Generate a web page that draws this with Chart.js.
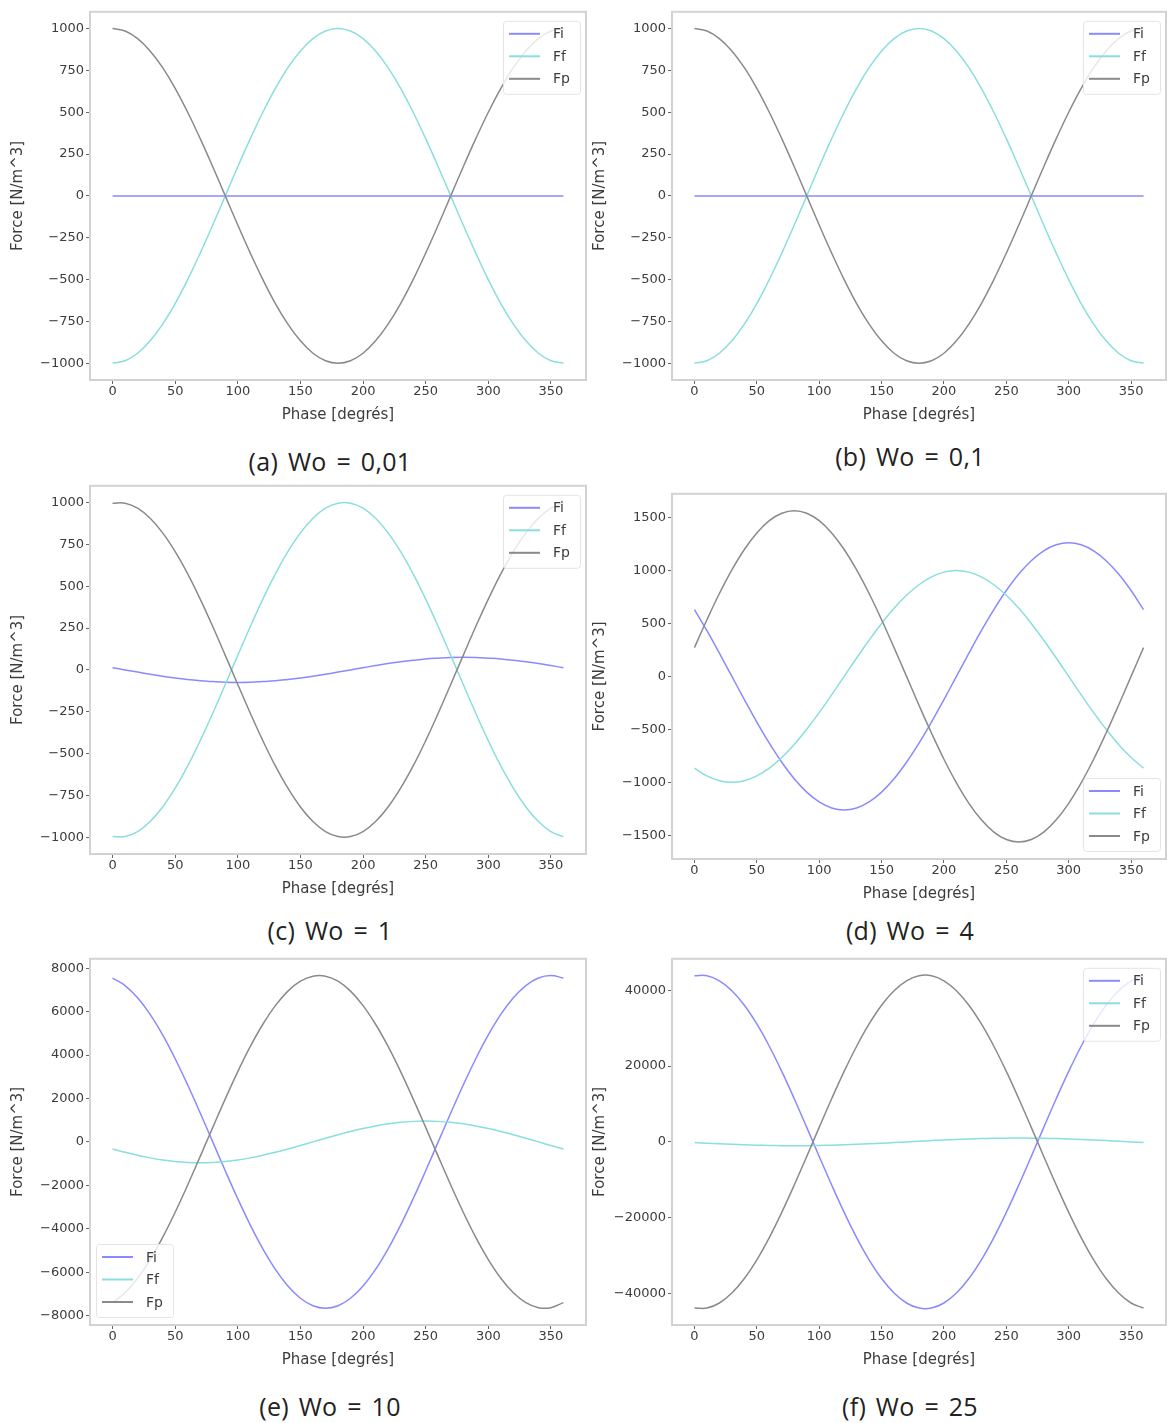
<!DOCTYPE html>
<html>
<head>
<meta charset="utf-8">
<script src="https://cdn.jsdelivr.net/npm/chart.js@4.4.1/dist/chart.umd.min.js"></script>
<style>
  body { margin: 0; background: #fff; width: 1167px; height: 1423px; position: relative; overflow: hidden; }
  canvas { position: absolute; }
  .cap { position: absolute; font-family: "Open Sans", sans-serif; font-size: 25px; color: #222;
         letter-spacing: 0.3px; word-spacing: 3px; transform: translate(-50%, -50%); white-space: nowrap; }
</style>
</head>
<body>
<script>
// phase samples (degrés), read every 10°
const PHASE = [0, 10, 20, 30, 40, 50, 60, 70, 80, 90, 100, 110, 120, 130, 140, 150, 160, 170, 180,
               190, 200, 210, 220, 230, 240, 250, 260, 270, 280, 290, 300, 310, 320, 330, 340, 350, 360];
const X_TICKS = [0, 50, 100, 150, 200, 250, 300, 350];
const SERIES = ['Fi', 'Ff', 'Fp'];
const CAPTIONS = ['(a) Wo = 0,01', '(b) Wo = 0,1', '(c) Wo = 1', '(d) Wo = 4', '(e) Wo = 10', '(f) Wo = 25'];

const Y_TICKS_1000 = [-1000, -750, -500, -250, 0, 250, 500, 750, 1000];
const Y_TICKS_1500 = [-1500, -1000, -500, 0, 500, 1000, 1500];
const Y_TICKS_8000 = [-8000, -6000, -4000, -2000, 0, 2000, 4000, 6000, 8000];
const Y_TICKS_40000 = [-40000, -20000, 0, 20000, 40000];

// (a) Wo = 0,01
const FI_A = [0, 0, 0, 0, 0, 0, 0, 0, 0, 0, 0, 0, 0, 0, 0, 0, 0, 0, 0, 0, 0, 0, 0, 0, 0, 0, 0, 0, 0, 0, 0, 0, 0, 0, 0, 0, 0];
const FF_A = [-1000, -985, -940, -866, -766, -643, -500, -342, -174, 0, 174, 342, 500, 643, 766, 866, 940, 985, 1000,
              985, 940, 866, 766, 643, 500, 342, 174, 0, -174, -342, -500, -643, -766, -866, -940, -985, -1000];
const FP_A = [1000, 985, 940, 866, 766, 643, 500, 342, 174, 0, -174, -342, -500, -643, -766, -866, -940, -985, -1000,
              -985, -940, -866, -766, -643, -500, -342, -174, 0, 174, 342, 500, 643, 766, 866, 940, 985, 1000];
// (b) Wo = 0,1
const FI_B = [0, 0, 0, 0, 0, 0, 0, 0, 0, 0, 0, 0, 0, 0, 0, 0, 0, 0, 0, 0, 0, 0, 0, 0, 0, 0, 0, 0, 0, 0, 0, 0, 0, 0, 0, 0, 0];
const FF_B = [-1000, -985, -940, -866, -766, -643, -500, -342, -174, 0, 174, 342, 500, 643, 766, 866, 940, 985, 1000,
              985, 940, 866, 766, 643, 500, 342, 174, 0, -174, -342, -500, -643, -766, -866, -940, -985, -1000];
const FP_B = [1000, 985, 940, 866, 766, 643, 500, 342, 174, 0, -174, -342, -500, -643, -766, -866, -940, -985, -1000,
              -985, -940, -866, -766, -643, -500, -342, -174, 0, 174, 342, 500, 643, 766, 866, 940, 985, 1000];
// (c) Wo = 1
const FI_C = [13, 0, -13, -26, -38, -48, -57, -65, -70, -74, -75, -74, -70, -65, -57, -48, -38, -26, -13,
              0, 13, 26, 38, 48, 57, 65, 70, 74, 75, 74, 70, 65, 57, 48, 38, 26, 13];
const FF_C = [-996, -996, -966, -906, -819, -707, -574, -423, -259, -87, 87, 259, 423, 574, 707, 819, 906, 966, 996,
              996, 966, 906, 819, 707, 574, 423, 259, 87, -87, -259, -423, -574, -707, -819, -906, -966, -996];
const FP_C = [996, 996, 966, 906, 819, 707, 574, 423, 259, 87, -87, -259, -423, -574, -707, -819, -906, -966, -996,
              -996, -966, -906, -819, -707, -574, -423, -259, -87, 87, 259, 423, 574, 707, 819, 906, 966, 996];
// (d) Wo = 4
const FI_D = [631, 432, 219, 0, -219, -432, -631, -811, -967, -1093, -1186, -1243, -1262, -1243, -1186, -1093, -967, -811, -631,
              -432, -219, 0, 219, 432, 631, 811, 967, 1093, 1186, 1243, 1262, 1243, 1186, 1093, 967, 811, 631];
const FF_D = [-866, -940, -985, -1000, -985, -940, -866, -766, -643, -500, -342, -174, 0, 174, 342, 500, 643, 766, 866,
              940, 985, 1000, 985, 940, 866, 766, 643, 500, 342, 174, 0, -174, -342, -500, -643, -766, -866];
const FP_D = [272, 535, 783, 1006, 1199, 1355, 1471, 1541, 1565, 1541, 1471, 1355, 1199, 1006, 783, 535, 272, 0, -272,
              -535, -783, -1006, -1199, -1355, -1471, -1541, -1565, -1541, -1471, -1355, -1199, -1006, -783, -535, -272, 0, 272];
// (e) Wo = 10
const FI_E = [7544, 7198, 6634, 5868, 4924, 3830, 2620, 1330, 0, -1330, -2620, -3830, -4924, -5868, -6634, -7198, -7544, -7660, -7544,
              -7198, -6634, -5868, -4924, -3830, -2620, -1330, 0, 1330, 2620, 3830, 4924, 5868, 6634, 7198, 7544, 7660, 7544];
const FF_E = [-328, -480, -617, -735, -831, -902, -945, -960, -945, -902, -831, -735, -617, -480, -328, -167, 0, 167, 328,
              480, 617, 735, 831, 902, 945, 960, 945, 902, 831, 735, 617, 480, 328, 167, 0, -167, -328];
const FP_E = [-7399, -6942, -6275, -5416, -4394, -3237, -1982, -668, 668, 1982, 3237, 4394, 5416, 6275, 6942, 7399, 7631, 7631, 7399,
              6942, 6275, 5416, 4394, 3237, 1982, 668, -668, -1982, -3237, -4394, -5416, -6275, -6942, -7399, -7631, -7631, -7399];
// (f) Wo = 25
const FI_F = [43833, 43833, 42500, 39877, 36045, 31112, 25238, 18594, 11387, 3837, -3837, -11387, -18594, -25238, -31112, -36045, -39877, -42500, -43833,
              -43833, -42500, -39877, -36045, -31112, -25238, -18594, -11387, -3837, 3837, 11387, 18594, 25238, 31112, 36045, 39877, 42500, 43833];
const FF_F = [-174, -342, -500, -643, -766, -866, -940, -985, -1000, -985, -940, -866, -766, -643, -500, -342, -174, 0, 174,
              342, 500, 643, 766, 866, 940, 985, 1000, 985, 940, 866, 766, 643, 500, 342, 174, 0, -174];
const FP_F = [-43833, -43833, -42500, -39877, -36045, -31112, -25238, -18594, -11387, -3837, 3837, 11387, 18594, 25238, 31112, 36045, 39877, 42500, 43833,
              43833, 42500, 39877, 36045, 31112, 25238, 18594, 11387, 3837, -3837, -11387, -18594, -25238, -31112, -36045, -39877, -42500, -43833];

const COLORS = ['#8a8aff', '#8adede', '#8a8a8a'];

// layout of each sub-plot: plot area [left, top, right, bottom], y limits, legend corner, caption centre
const PANELS = [
  { plot: [90, 8, 586, 380], ylim: [-1100, 1100], yticks: Y_TICKS_1000, series: [FI_A, FF_A, FP_A], legend: 'ne', cap: [330, 461] },
  { plot: [672, 8, 1166, 380], ylim: [-1100, 1100], yticks: Y_TICKS_1000, series: [FI_B, FF_B, FP_B], legend: 'ne', cap: [910, 456] },
  { plot: [90, 482, 586, 854], ylim: [-1100, 1100], yticks: Y_TICKS_1000, series: [FI_C, FF_C, FP_C], legend: 'ne', cap: [330, 930] },
  { plot: [672, 490, 1166, 859], ylim: [-1725, 1725], yticks: Y_TICKS_1500, series: [FI_D, FF_D, FP_D], legend: 'se', cap: [910, 930] },
  { plot: [90, 955, 586, 1325], ylim: [-8430, 8430], yticks: Y_TICKS_8000, series: [FI_E, FF_E, FP_E], legend: 'sw', cap: [330, 1406] },
  { plot: [672, 955, 1166, 1325], ylim: [-48300, 48300], yticks: Y_TICKS_40000, series: [FI_F, FF_F, FP_F], legend: 'ne', cap: [910, 1406] }
];

const Y_AXIS_W = 90, X_AXIS_H = 50, PAD_T = 6, PAD_R = 6;
const TICK_FONT = { family: 'DejaVu Sans', size: 13 };
const TITLE_FONT = { family: 'DejaVu Sans', size: 15 };
const TEXT_COLOR = '#3c3c3c';

const framePlugin = {
  id: 'frame',
  beforeDatasetsDraw(chart) {
    const a = chart.chartArea, c = chart.ctx;
    c.save();
    c.strokeStyle = '#d2d2d2';
    c.lineWidth = 2;
    c.strokeRect(a.left, a.top, a.right - a.left, a.bottom - a.top);
    c.restore();
  }
};

const boxLegend = {
  id: 'boxLegend',
  afterDatasetsDraw(chart, args, opts) {
    const a = chart.chartArea, c = chart.ctx;
    const w = 77, h = 73;
    const x = opts.corner[1] === 'e' ? a.right - 6 - w : a.left + 6;
    const y = opts.corner[0] === 'n' ? a.top + 9 : a.bottom - 8 - h;
    c.save();
    c.beginPath();
    c.roundRect(x + 0.5, y + 0.5, w, h, 3);
    c.fillStyle = 'rgba(255,255,255,0.8)';
    c.fill();
    c.strokeStyle = '#e4e4e4';
    c.lineWidth = 1;
    c.stroke();
    c.font = '14px "DejaVu Sans"';
    c.textBaseline = 'middle';
    chart.data.datasets.forEach((ds, i) => {
      const yy = y + 13 + i * 22.5;
      c.strokeStyle = ds.borderColor;
      c.lineWidth = 2;
      c.beginPath();
      c.moveTo(x + 6, yy);
      c.lineTo(x + 37, yy);
      c.stroke();
      c.fillStyle = TEXT_COLOR;
      c.fillText(ds.label, x + 50, yy + 1);
    });
    c.restore();
  }
};

function fmt(v) {
  return v < 0 ? '\u2212' + Math.abs(v) : String(v);
}

PANELS.forEach((p, k) => {
  const [l, t, r, b] = p.plot;
  const cv = document.createElement('canvas');
  const W = Y_AXIS_W + (r - l) + PAD_R, H = PAD_T + (b - t) + X_AXIS_H;
  cv.width = W; cv.height = H;
  cv.style.left = (l - Y_AXIS_W) + 'px';
  cv.style.top = (t - PAD_T) + 'px';
  cv.style.width = W + 'px'; cv.style.height = H + 'px';
  document.body.appendChild(cv);

  const cap = document.createElement('div');
  cap.className = 'cap';
  cap.textContent = CAPTIONS[k];
  cap.style.left = p.cap[0] + 'px';
  cap.style.top = p.cap[1] + 'px';
  document.body.appendChild(cap);

  const datasets = SERIES.map((name, i) => ({
    label: name,
    data: PHASE.map((x, j) => ({ x: x, y: p.series[i][j] })),
    borderColor: COLORS[i],
    borderWidth: 1.5,
    pointRadius: 0,
    tension: 0.4,
    fill: false,
    order: 3 - i
  }));

  new Chart(cv, {
    type: 'line',
    data: { datasets: datasets },
    plugins: [framePlugin, boxLegend],
    options: {
      responsive: false,
      animation: false,
      events: [],
      layout: { padding: { top: PAD_T, right: PAD_R, left: 0, bottom: 0 } },
      plugins: {
        legend: { display: false },
        tooltip: { enabled: false },
        boxLegend: { corner: p.legend }
      },
      scales: {
        x: {
          type: 'linear', min: -18, max: 378,
          afterBuildTicks: s => { s.ticks = X_TICKS.map(v => ({ value: v })); },
          afterFit: s => { s.height = X_AXIS_H; },
          grid: { drawOnChartArea: false, tickLength: 4, color: '#666' },
          border: { display: false },
          ticks: { font: TICK_FONT, color: TEXT_COLOR, padding: 0, maxRotation: 0, autoSkip: false },
          title: { display: true, text: 'Phase [degrés]', font: TITLE_FONT, color: TEXT_COLOR, padding: { top: 0, bottom: 6 } }
        },
        y: {
          type: 'linear', min: p.ylim[0], max: p.ylim[1],
          afterBuildTicks: s => { s.ticks = p.yticks.map(v => ({ value: v })); },
          afterFit: s => { s.width = Y_AXIS_W; },
          grid: { drawOnChartArea: false, tickLength: 4, color: '#666' },
          border: { display: false },
          ticks: { font: TICK_FONT, color: TEXT_COLOR, padding: 2, autoSkip: false, callback: v => fmt(v) },
          title: { display: true, text: 'Force [N/m^3]', font: TITLE_FONT, color: TEXT_COLOR, padding: { top: 9, bottom: 0 } }
        }
      }
    }
  });
});
</script>
</body>
</html>
